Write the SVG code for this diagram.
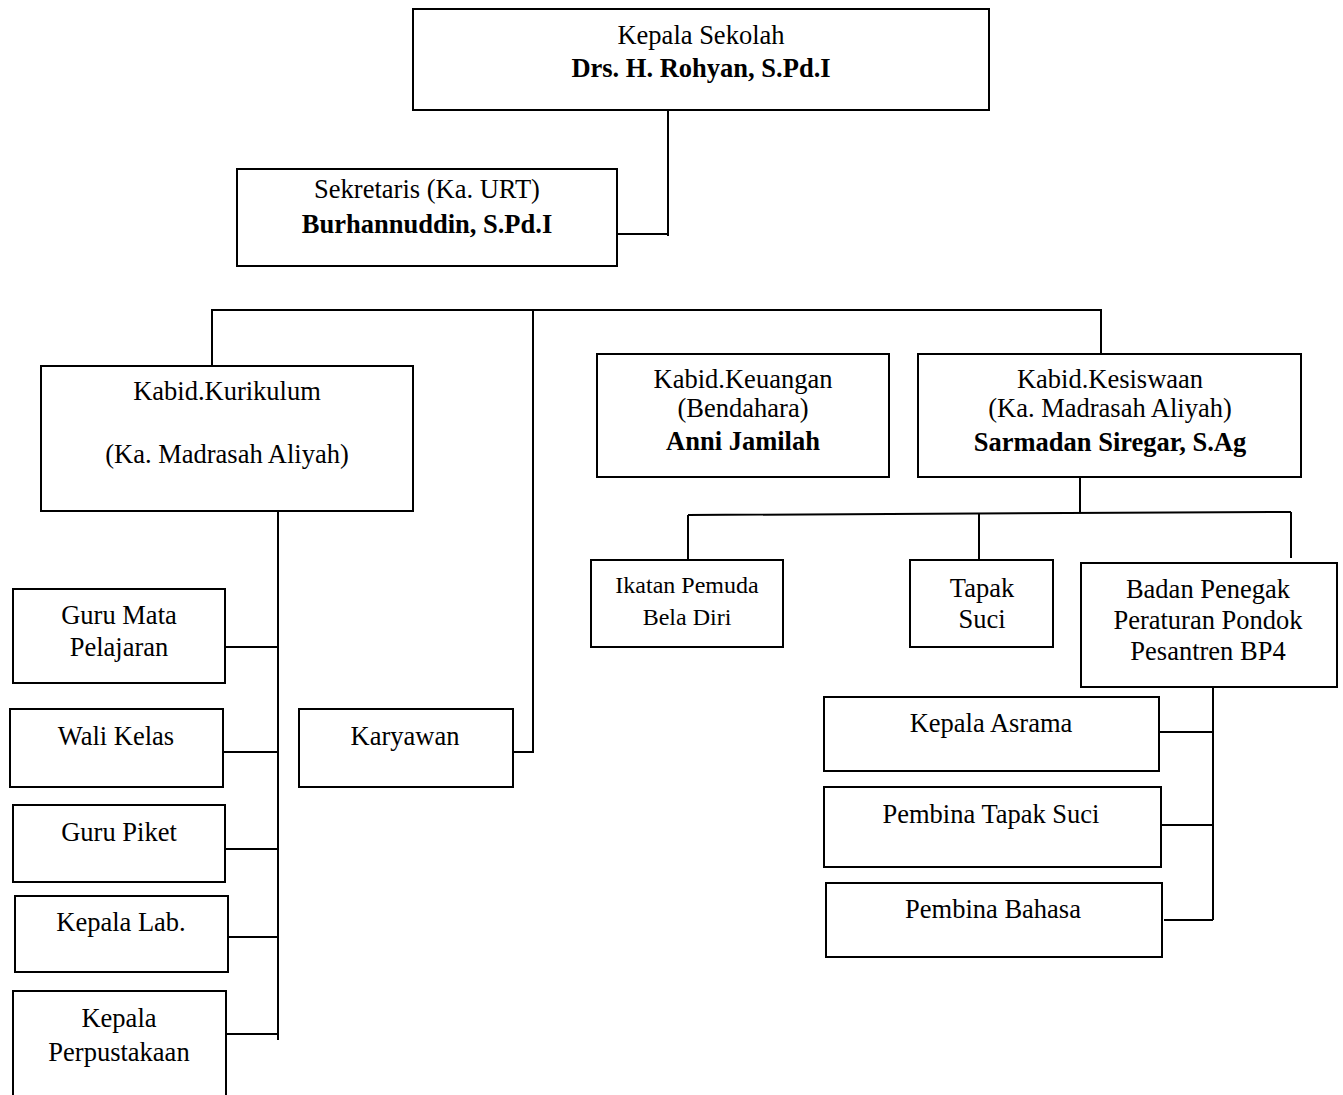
<svg xmlns="http://www.w3.org/2000/svg" width="1343" height="1095" viewBox="0 0 1343 1095">
<style>
.box{fill:#fff;stroke:#000;stroke-width:2}
.ln{fill:none;stroke:#000;stroke-width:2}
text{font-family:"Liberation Serif","Times New Roman",serif;font-size:26.5px;fill:#000;text-anchor:middle}
.b{font-weight:bold}
.s{font-size:24px}
</style>
<rect width="1343" height="1095" fill="#fff"/>
<g id="connectors">
<path class="ln" d="M668,110 V236 M617,234 H668"/>
<path class="ln" d="M212,366 V310 H1101 V354 M533,310 V752 H513"/>
<path class="ln" d="M278,511 V1040 M225,647 H278 M223,752 H278 M225,849 H278 M228,937 H278 M226,1034 H278"/>
<path class="ln" d="M1080,477 V514 M688,515 L1291,512 M688,515 V560 M979,514 V560 M1291,512 V558"/>
<path class="ln" d="M1213,687 V920 M1160,732 H1213 M1162,825 H1213 M1164,920 H1213"/>
</g>
<g id="kepala-sekolah"><rect class="box" x="413" y="9" width="576" height="101"/><text x="701" y="44">Kepala Sekolah</text><text class="b" x="701" y="77">Drs. H. Rohyan, S.Pd.I</text></g>
<g id="sekretaris"><rect class="box" x="237" y="169" width="380" height="97"/><text x="427" y="198">Sekretaris (Ka. URT)</text><text class="b" x="427" y="233">Burhannuddin, S.Pd.I</text></g>
<g id="kurikulum"><rect class="box" x="41" y="366" width="372" height="145"/><text x="227" y="400">Kabid.Kurikulum</text><text x="227" y="463">(Ka. Madrasah Aliyah)</text></g>
<g id="keuangan"><rect class="box" x="597" y="354" width="292" height="123"/><text x="743" y="388">Kabid.Keuangan</text><text x="743" y="417">(Bendahara)</text><text class="b" x="743" y="450">Anni Jamilah</text></g>
<g id="kesiswaan"><rect class="box" x="918" y="354" width="383" height="123"/><text x="1110" y="388">Kabid.Kesiswaan</text><text x="1110" y="417">(Ka. Madrasah Aliyah)</text><text class="b" x="1110" y="451">Sarmadan Siregar, S.Ag</text></g>
<g id="guru-mapel"><rect class="box" x="13" y="589" width="212" height="94"/><text x="119" y="624">Guru Mata</text><text x="119" y="656">Pelajaran</text></g>
<g id="wali-kelas"><rect class="box" x="10" y="709" width="213" height="78"/><text x="116" y="745">Wali Kelas</text></g>
<g id="guru-piket"><rect class="box" x="13" y="805" width="212" height="77"/><text x="119" y="841">Guru Piket</text></g>
<g id="kepala-lab"><rect class="box" x="15" y="896" width="213" height="76"/><text x="121" y="931">Kepala Lab.</text></g>
<g id="kepala-perpus"><rect class="box" x="13" y="991" width="213" height="120"/><text x="119" y="1027">Kepala</text><text x="119" y="1061">Perpustakaan</text></g>
<g id="karyawan"><rect class="box" x="299" y="709" width="214" height="78"/><text x="405" y="745">Karyawan</text></g>
<g id="ikatan-pemuda"><rect class="box" x="591" y="560" width="192" height="87"/><text class="s" x="687" y="593">Ikatan Pemuda</text><text class="s" x="687" y="625">Bela Diri</text></g>
<g id="tapak-suci"><rect class="box" x="910" y="560" width="143" height="87"/><text x="982" y="597">Tapak</text><text x="982" y="628">Suci</text></g>
<g id="bp4"><rect class="box" x="1081" y="563" width="256" height="124"/><text x="1208" y="598">Badan Penegak</text><text x="1208" y="629">Peraturan Pondok</text><text x="1208" y="660">Pesantren BP4</text></g>
<g id="kepala-asrama"><rect class="box" x="824" y="697" width="335" height="74"/><text x="991" y="732">Kepala Asrama</text></g>
<g id="pembina-tapak-suci"><rect class="box" x="824" y="787" width="337" height="80"/><text x="991" y="823">Pembina Tapak Suci</text></g>
<g id="pembina-bahasa"><rect class="box" x="826" y="883" width="336" height="74"/><text x="993" y="918">Pembina Bahasa</text></g>
</svg>
